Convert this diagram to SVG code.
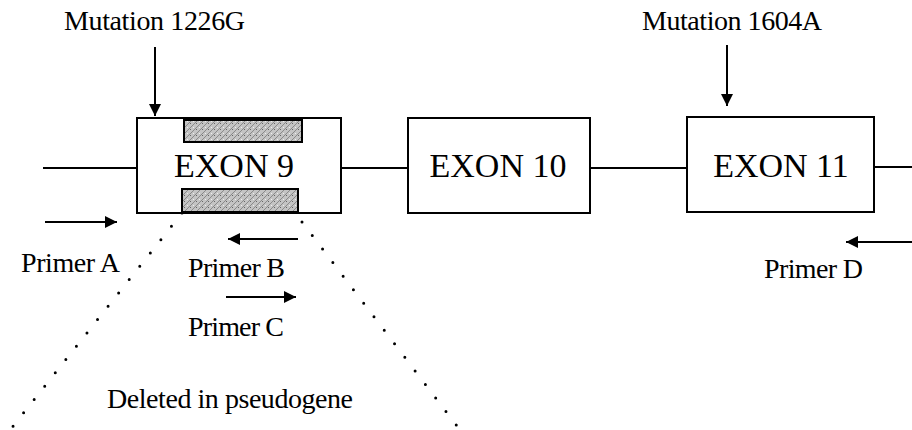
<svg xmlns="http://www.w3.org/2000/svg" width="912" height="430" viewBox="0 0 912 430">
<style>
text{font-family:"Liberation Serif","Times New Roman",serif;fill:#000}
.lbl{font-size:28px}
.ex{font-size:34px;text-anchor:middle}
.box{fill:#fff;stroke:#000;stroke-width:2}
.ln{stroke:#000;stroke-width:2;fill:none}
.arr{stroke:#000;stroke-width:2;fill:none;marker-end:url(#ah)}
.dot{stroke:#000;stroke-width:3;stroke-linecap:round;stroke-dasharray:0 17;fill:none}
.bar{fill:url(#hatch);stroke:#000;stroke-width:2}
</style>
<defs>
<marker id="ah" viewBox="0 0 10 10" refX="10" refY="5" markerWidth="6" markerHeight="6" markerUnits="strokeWidth" orient="auto">
<path d="M0,0 L10,5 L0,10 z" fill="#000"/>
</marker>
<pattern id="hatch" width="6" height="6" patternUnits="userSpaceOnUse">
<rect width="6" height="6" fill="#c4c4c4"/>
<path d="M0,6 L6,0" stroke="#8a8a8a" stroke-width="1"/>
<rect x="1" y="1" width="1" height="1" fill="#eee"/>
<rect x="4" y="3" width="1" height="1" fill="#666"/>
</pattern>
</defs>
<g id="connectors">
<line class="ln" x1="43" y1="168" x2="137" y2="168"/>
<line class="ln" x1="341" y1="168" x2="408" y2="168"/>
<line class="ln" x1="590" y1="168" x2="687" y2="168"/>
<line class="ln" x1="874" y1="167" x2="912" y2="167"/>
<line class="arr" x1="155" y1="47" x2="155" y2="116"/>
<line class="arr" x1="727" y1="45" x2="727" y2="106"/>
<line class="arr" x1="45" y1="222" x2="117" y2="222"/>
<line class="arr" x1="298" y1="239" x2="228" y2="239"/>
<line class="arr" x1="226" y1="297" x2="296" y2="297"/>
<line class="arr" x1="912" y1="242" x2="846" y2="242"/>
<line class="dot" x1="182" y1="213" x2="10" y2="430"/>
<line class="dot" x1="302" y1="222" x2="460" y2="430"/>
</g>
<g id="exon9">
<rect class="box" x="137" y="118" width="204" height="95"/>
<rect class="bar" x="184" y="120" width="118" height="22"/>
<rect class="bar" x="182" y="189" width="116" height="23"/>
<text class="ex" x="234" y="177">EXON 9</text>
</g>
<g id="exon10">
<rect class="box" x="408" y="118" width="182" height="95"/>
<text class="ex" x="498" y="177">EXON 10</text>
</g>
<g id="exon11">
<rect class="box" x="687" y="117" width="187" height="95"/>
<text class="ex" x="781" y="177">EXON 11</text>
</g>
<g id="labels">
<text class="lbl" x="64" y="30" textLength="181">Mutation 1226G</text>
<text class="lbl" x="642" y="30" textLength="180">Mutation 1604A</text>
<text class="lbl" x="21" y="272" textLength="99">Primer A</text>
<text class="lbl" x="188" y="277" textLength="97">Primer B</text>
<text class="lbl" x="188" y="336" textLength="96">Primer C</text>
<text class="lbl" x="764" y="278" textLength="99">Primer D</text>
<text class="lbl" x="107" y="408" textLength="246">Deleted in pseudogene</text>
</g>
</svg>
